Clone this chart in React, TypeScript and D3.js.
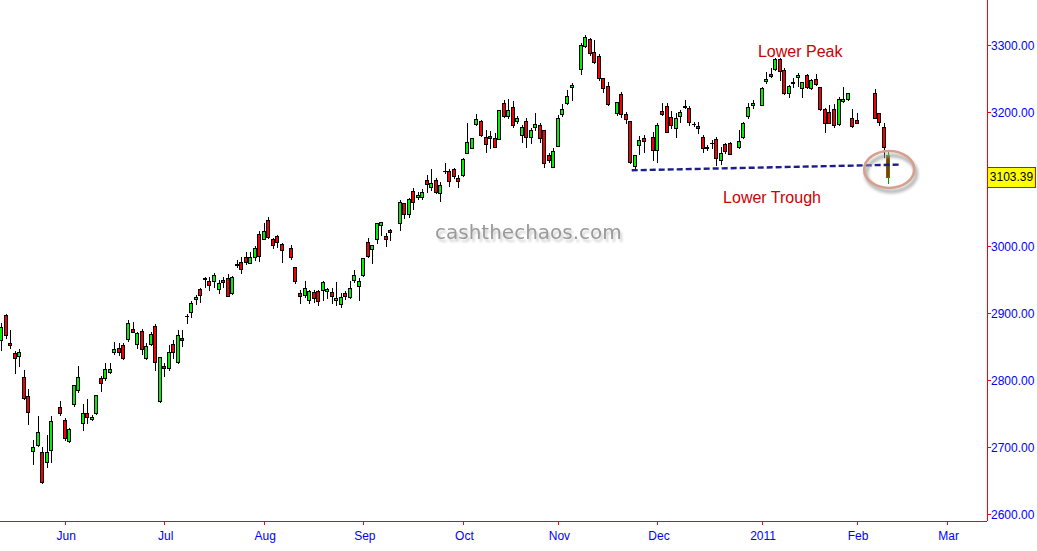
import React from 'react';
import * as d3 from 'd3';

// One slot per weekday, 12 May 2010 .. 10 Feb 2011; null = market closed
const opens: (number | null)[] = [
  2859.7, 2897, 2855.7, 2840, 2835.8, 2804, 2776.6, 2694, 2702.5, 2692, 2677.2, 2695, null, 2759.7, 2740, 2708.5, 2763.7, 2784.6, 2735.8, 2750.3,
  2742.3, 2750.3, 2802.5, 2802.5, 2811.5, 2842, 2847.3, 2851.8, 2860.7, 2875.7, 2853.3, 2873.1, 2832.4, 2853.3, 2880.6, 2768.2, 2820.9, 2817.5, 2853.3, 2827.3,
  2862.7, 2895.5, 2902, 2921.4, 2935.4, 2950.3, 2947.3, 2947.8, 2935.4, 2949.3, 2951.8, 2929.4, 2971.6, 2975.7, 2984, 2975.1, 2984, 3018, 3010.5, 3038.8,
  3010, 3014.9, 3003, null, 2997.5, 2968.2, 2929.4, 2926.9, 2919.4, 2931.8, 2932.8, 2934.3, 2933.3, 2931.8, 2919.9, 2913, 2929.4, 2923.4, 2949.3, 2940.8,
  2956.3, 3005.5, 2995, 3010, 3031.4, 3014.9, 3023.9, null, 3033.9, 3063.7, 3047.3, 3082.5, 3073.1, 3073.6, 3098.5, 3088.5, 3098.5, 3078.7, 3111.9, 3111.9,
  3114.5, 3101, 3106, 3139.3, 3146.7, 3182.1, 3186.6, 3163.1, 3164.2, 3161.6, 3159.3, 3213, 3194, 3207, 3186.6, 3165.2, 3186.6, 3162.2, 3178.1, 3180.6,
  3173.1, 3135.4, 3118.4, 3149.7, 3196.6, 3213, 3236.9, null, 3263.7, 3298.5, 3308.5, 3289.6, 3283.6, 3250.3, 3238.8, null, 3199, 3226.9, 3197, 3186.6,
  3119.4, 3150.7, 3161.6, null, 3163.1, 3143.3, 3201.5, 3209, 3193, 3175.7, 3194, 3207, 3205.5, 3182.1, 3179.1, 3163.1, 3147.3, 3153.3, 3159.3, 3128.4,
  3151.8, 3154.2, null, 3147.3, 3163.1, 3194.5, 3210.4, null, 3210.4, 3246.7, 3256.7, 3263.7, 3278.7, 3262.7, 3228.8, 3242.8, 3252.7, 3236.3, 3254.8, 3236.3,
  3248.8, 3236.9, 3204, 3199.6, 3204, 3182.1, 3216.9, 3219.4, 3190.6, 3188.1, null, null, null, 3228.8, 3198, 3177.2, 3135.8,
];
const highs: (number | null)[] = [
  2884.6, 2898.5, 2874.6, 2843.3, 2846.3, 2815, 2786.1, 2710.4, 2746.3, 2700.5, 2718, 2745.8, null, 2768.7, 2743.3, 2728.4, 2792.5, 2820.9, 2764.2, 2771.6,
  2747.8, 2777.6, 2806, 2825, 2825, 2856.3, 2855, 2855, 2889.6, 2887, 2872.1, 2875.7, 2854.9, 2872.1, 2883.1, 2834.5, 2825.4, 2852.2, 2859.7, 2874.6,
  2874.6, 2898.5, 2918.4, 2926.9, 2936.9, 2954.2, 2954.2, 2959.3, 2949.3, 2954.2, 2957.8, 2955, 2979.1, 2984, 2991.5, 2991.5, 3000.5, 3022.4, 3034.3, 3042.8,
  3011.9, 3016.4, 3004, null, 3001.5, 2968.7, 2934.3, 2948.2, 2934.3, 2934.3, 2934.3, 2947.8, 2936.9, 2936.9, 2946.7, 2929.4, 2932.8, 2947.8, 2964.2, 2951.8,
  2982.1, 3011.5, 3001.5, 3034.4, 3036, 3019, 3025.4, null, 3068.7, 3064.7, 3071.2, 3086, 3081.1, 3085.1, 3106, 3114.5, 3101, 3096, 3124.3, 3114.5,
  3116, 3106, 3131.8, 3183.1, 3160.8, 3197, 3188.1, 3173.1, 3172.1, 3168.2, 3203, 3217.9, 3219, 3216.9, 3194, 3180.6, 3190.6, 3176.6, 3198, 3183.1,
  3173.1, 3138.4, 3146.3, 3195.5, 3212, 3232.8, 3243.7, null, 3303.4, 3314.9, 3310.4, 3307.5, 3286.6, 3250.3, 3245.2, null, 3214.5, 3230.3, 3199.6, 3186.6,
  3135.4, 3164.6, 3165.7, null, 3170.6, 3183.1, 3213, 3213, 3202, 3198, 3203, 3217.9, 3209, 3185.5, 3185.5, 3165.7, 3150.7, 3158.2, 3163.1, 3147.3,
  3153.3, 3155.7, null, 3173.1, 3185.5, 3213, 3217.9, null, 3236.9, 3260.2, 3265.2, 3280.1, 3280.1, 3265.2, 3240.3, 3250.3, 3257.8, 3245.2, 3256.7, 3248.8,
  3256.7, 3236.9, 3205.5, 3211, 3212, 3222, 3236.9, 3227.9, 3204, 3198, null, null, null, 3233.9, 3198.5, 3183.1, 3140.8,
];
const lows: (number | null)[] = [
  2844.8, 2862.7, 2848.2, 2810.9, 2821.4, 2772, 2734.3, 2674, 2701, 2645.8, 2670.6, 2678, null, 2747.8, 2710.5, 2707.5, 2761.2, 2782.1, 2725, 2735.8,
  2740.3, 2750, 2784, 2800, 2811, 2838.4, 2837.3, 2832, 2858.7, 2871, 2847.3, 2838.8, 2831.4, 2852.2, 2814.9, 2767.7, 2806, 2815, 2832.9, 2824.9,
  2850.8, 2884.6, 2893.6, 2913, 2916.9, 2939.3, 2934.3, 2939.3, 2930.3, 2939.3, 2925, 2929, 2969, 2960.2, 2972.7, 2974.2, 2979.1, 2978, 3010, 3012.6,
  2997, 2999, 2976.6, null, 2980, 2944.3, 2914.5, 2923.4, 2914.5, 2916.9, 2912, 2919.4, 2921.9, 2914.5, 2912, 2909.5, 2920.9, 2922, 2946.7, 2919.4,
  2955.8, 2983.1, 2975.1, 3005, 3016.4, 3000, 3009, null, 3023.9, 3041.4, 3042.8, 3054.8, 3069.7, 3069.7, 3081.1, 3083.6, 3078.7, 3067.6, 3108.5, 3089.6,
  3101, 3088.5, 3104.5, 3138.4, 3146.3, 3180.6, 3164.2, 3140.8, 3145.8, 3147.3, 3159.3, 3193, 3190.6, 3177.2, 3183.1, 3155.7, 3147.3, 3153.3, 3173.1, 3155.7,
  3117.5, 3125.8, 3117.5, 3149.7, 3194, 3212, 3217.9, null, 3256.3, 3297.5, 3285, 3273.1, 3247.8, 3230.3, 3210.4, null, 3195.5, 3193, 3183.1, 3123.4,
  3116.4, 3136.9, 3140.8, null, 3128.4, 3125.8, 3195.5, 3170.6, 3176.1, 3163.1, 3185.5, 3205.5, 3180.6, 3179.1, 3168.7, 3140.8, 3143.3, 3145.8, 3120.9, 3122.4,
  3138.4, 3136.9, null, 3145.8, 3160.8, 3191.1, 3205.5, null, 3210, 3242.8, 3252.7, 3262.7, 3247.8, 3227.5, 3222, 3237.8, 3238.8, 3222.8, 3236.3, 3233.9,
  3240.3, 3203, 3170.6, 3183.1, 3178.1, 3180.6, 3215.4, 3217.9, 3178.1, 3183.1, null, null, null, 3190.6, 3180.6, 3133.3, 3094.5,
];
const closes: (number | null)[] = [
  2878.7, 2867.2, 2852.7, 2832.4, 2842.2, 2772.7, 2751.8, 2700, 2722, 2648.3, 2693, 2738.3, null, 2750.3, 2713, 2726.4, 2792, 2804, 2750.3, 2744.3,
  2745.3, 2777.2, 2795, 2816, 2816, 2846.3, 2842.2, 2832.4, 2884.6, 2871.2, 2869.7, 2845.8, 2850.8, 2868.2, 2827.3, 2833.9, 2818.4, 2842.2, 2842.2, 2866.7,
  2859.7, 2895.5, 2915.4, 2923.4, 2926.4, 2952.2, 2941.4, 2956.3, 2944.3, 2946.7, 2925.4, 2954.2, 2973.6, 2965.2, 2976.6, 2984, 2996.6, 2985, 3022.9, 3013,
  3001.5, 3005.5, 2994, null, 2984, 2948.2, 2925.8, 2937.8, 2932.8, 2922.9, 2917.9, 2945.8, 2935.4, 2925.4, 2922, 2924.4, 2925.4, 2936.9, 2956.3, 2948.2,
  2981.6, 2985, 3001, 3033.9, 3035.4, 3010, 3020.9, null, 3065.2, 3047.3, 3069.7, 3065.2, 3076.1, 3080.2, 3092.5, 3094.5, 3081.1, 3091.5, 3111.9, 3097,
  3104.5, 3097, 3129.9, 3155.7, 3160.8, 3189.1, 3165.7, 3151.8, 3161.6, 3148.2, 3203, 3194, 3203, 3180.2, 3190.6, 3178.1, 3162.2, 3173.1, 3181.6, 3160.8,
  3123.4, 3128.4, 3141.4, 3190.6, 3204, 3223.9, 3240.3, null, 3300, 3312.4, 3287.6, 3274.6, 3250.3, 3235.4, 3211.5, null, 3214.5, 3197, 3189.1, 3124.9,
  3135.4, 3157.8, 3156.7, null, 3143.3, 3180.6, 3197, 3170.6, 3180.6, 3190.6, 3200.5, 3209, 3184.6, 3182.1, 3176.1, 3145.8, 3145.8, 3153.3, 3131.8, 3138.4,
  3141.8, 3136.9, null, 3157.2, 3183.1, 3207, 3213, null, 3235.4, 3248.8, 3253.7, 3278.7, 3261.6, 3227.9, 3239.3, 3245.2, 3255.2, 3244.3, 3237.8, 3247.8,
  3241.3, 3204, 3183.1, 3184, 3180.6, 3219, 3219, 3227.9, 3179.1, 3184, null, null, null, 3190.6, 3185.5, 3148.2, 3103.39,
];

const monthLabels = ['Jun', 'Jul', 'Aug', 'Sep', 'Oct', 'Nov', 'Dec', '2011', 'Feb', 'Mar'];
const monthSlots = [14, 36, 58, 80, 102, 123, 145, 168, 189, 209];
const yTicks = [2600, 2700, 2800, 2900, 3000, 3100, 3200, 3300];
const lastPrice = 3103.39;

// hand-drawn support line and annotations, anchored in slot / price units
const supportSlots = [139.3, 198.6];
const supportPrices = [3113, 3121.5];
const circleSlot = 196.2;
const circlePrice = 3114.2;

const W = 1037;
const H = 551;
const AXIS_X = 987;
const AXIS_Y = 521;

const UP = '#00f000';
const DOWN = '#f40000';
const FONT = '"Liberation Sans", Arial, sans-serif';

export default function App() {
  const x = d3.scaleLinear().domain([0, 196]).range([1.3, 888.3]);
  const y = d3.scaleLinear().domain([2600, 3300]).range([514, 45]);
  const last = opens.length - 1;

  const candles = opens.map((o, i) => {
    const h = highs[i], l = lows[i], c = closes[i];
    if (o === null || h === null || l === null || c === null) return null;
    const r = Math.round(x(i));
    const top = Math.round(y(Math.max(o, c))) + 0.5;
    const bot = Math.round(y(Math.min(o, c))) + 0.5;
    const outline = i === last ? '#00a000' : '#000';
    const body = Math.abs(o - c) < 0.01
      ? <line x1={r - 2} x2={r + 2} y1={top} y2={top} stroke="#000" />
      : <rect x={r - 1.5} y={top} width={3} height={Math.max(1, bot - top)}
          fill={c > o ? UP : DOWN} stroke={outline} strokeWidth={1} />;
    return (
      <g key={i}>
        <line x1={r + 0.5} x2={r + 0.5} y1={Math.round(y(h))} y2={Math.round(y(l)) + 1} stroke={outline} strokeWidth={1} />
        {body}
      </g>
    );
  });

  const support = d3.line<number>()
    .x((_, i) => x(supportSlots[i]))
    .y((p) => y(p))(supportPrices);

  const cx0 = x(circleSlot);
  const cy0 = y(circlePrice);

  return (
    <svg width={W} height={H} style={{ position: 'absolute', left: 0, top: 0, background: '#fff' }}>
      <defs>
        <filter id="blur" x="-30%" y="-30%" width="160%" height="160%">
          <feGaussianBlur stdDeviation="1.6" />
        </filter>
        <filter id="wmShadow" x="-10%" y="-40%" width="125%" height="190%">
          <feDropShadow dx="2" dy="3" stdDeviation="1.2" floodColor="#c8c8c8" floodOpacity="0.9" />
        </filter>
      </defs>

      {/* watermark */}
      <text x={435} y={239} fill="#9a9a9a" filter="url(#wmShadow)"
        fontFamily="Tahoma, 'DejaVu Sans', sans-serif" fontSize={20}>cashthechaos.com</text>

      {candles}

      <path d={support ?? ''} fill="none" stroke="#1c1c8c" strokeWidth={2.4} strokeDasharray="6 3" />

      {/* ring around the last candle */}
      <ellipse cx={cx0 + 2} cy={cy0 + 4} rx={25} ry={18} fill="none" stroke="#9a9a9a" strokeWidth={4} filter="url(#blur)" opacity={0.7} />
      <ellipse cx={cx0} cy={cy0} rx={25} ry={18.5} fill="none" stroke="#d6a08e" strokeWidth={2.6} />

      <g fontFamily={FONT} fontSize={16} fill="#cc0000">
        <text x={x(167.2)} y={y(3282.5)}>Lower Peak</text>
        <text x={x(159.5)} y={y(3064)}>Lower Trough</text>
      </g>

      {/* axes */}
      <line x1={AXIS_X + 0.5} x2={AXIS_X + 0.5} y1={0} y2={AXIS_Y} stroke="#ff0000" />
      <line x1={0} x2={AXIS_X} y1={AXIS_Y + 0.5} y2={AXIS_Y + 0.5} stroke="#ff0000" />
      <g fontFamily={FONT} fontSize={12} fill="#0000ff">
        {yTicks.map((t) => (
          <g key={t}>
            <line x1={AXIS_X} x2={AXIS_X + 4} y1={Math.round(y(t)) + 0.5} y2={Math.round(y(t)) + 0.5} stroke="#ff0000" />
            {Math.abs(y(t) - y(lastPrice)) > 14 && (
              <text x={AXIS_X + 4} y={y(t) + 4.5}>{t.toFixed(2)}</text>
            )}
          </g>
        ))}
        {monthSlots.map((s, i) => (
          <g key={s}>
            <line x1={Math.round(x(s)) + 0.5} x2={Math.round(x(s)) + 0.5} y1={AXIS_Y} y2={AXIS_Y + 4} stroke="#ff0000" />
            <text x={x(s) + 1.5} y={AXIS_Y + 19} textAnchor="middle">{monthLabels[i]}</text>
          </g>
        ))}
      </g>

      {/* last price marker */}
      <rect x={AXIS_X + 0.5} y={Math.round(y(lastPrice)) - 9.5} width={48} height={20} fill="#ffff00" stroke="#ff0000" />
      <text x={AXIS_X + 24.5} y={y(lastPrice) + 4.5} textAnchor="middle" fontFamily={FONT} fontSize={12} fill="#000">
        {lastPrice.toFixed(2)}
      </text>
    </svg>
  );
}
